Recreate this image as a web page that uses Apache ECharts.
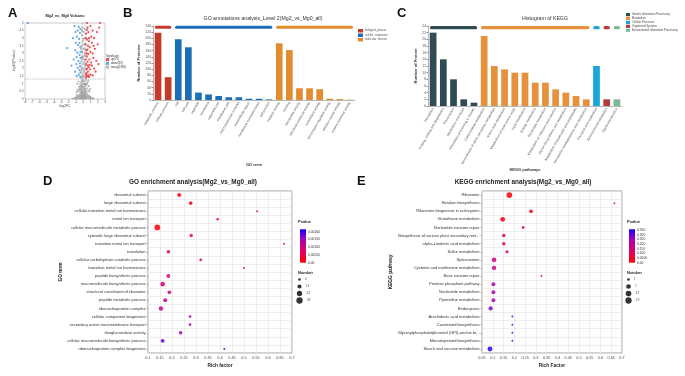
<!DOCTYPE html>
<html>
<head>
<meta charset="utf-8">
<script src="https://cdn.jsdelivr.net/npm/echarts@6/dist/echarts.min.js"></script>
<style>
html, body { margin: 0; background: #fff; }
#main { width: 685px; height: 376px; }
</style>
</head>
<body>
<div id="main"></div>
<script>
// ---- A: volcano ----
const volcanoUp = [[0.4,1.4],[0.55,1.5],[0.8,1.45],[0.45,1.7],[0.65,1.8],[1.0,1.6],[1.3,1.55],[0.5,2.0],[0.75,2.1],[0.95,1.95],[1.2,2.2],[1.5,2.0],[0.4,2.3],[0.6,2.45],[0.85,2.6],[1.1,2.4],[1.4,2.7],[1.8,2.5],[0.5,2.8],[0.7,2.95],[1.0,3.1],[1.3,3.0],[1.6,3.3],[0.45,3.2],[0.65,3.5],[0.9,3.4],[1.2,3.7],[2.0,3.6],[0.55,3.9],[0.8,4.0],[1.1,4.1],[1.5,4.0],[0.4,4.3],[0.7,4.4],[1.3,4.5],[1.9,4.4],[0.6,4.7],[1.0,4.8],[2.2,4.7],[1.7,1.8],[2.1,2.3],[0.35,3.6],[0.9,2.25],[1.45,3.5],[2.3,5.0],[0.55,5.0],
  [0.38,1.6],[0.42,1.95],[0.36,2.6],[0.48,3.0],[0.6,3.25],[0.38,4.0],[0.5,4.55],[0.7,1.55],[0.62,2.2],[0.8,3.8]];
const volcanoDown = [[-0.4,1.45],[-0.6,1.6],[-0.9,1.5],[-0.5,1.9],[-0.75,2.05],[-1.1,1.8],[-0.45,2.35],[-0.65,2.5],[-0.95,2.3],[-1.3,2.6],[-0.5,2.9],[-0.8,3.05],[-1.1,3.2],[-0.4,3.4],[-0.7,3.55],[-1.0,3.7],[-0.55,3.95],[-0.85,4.1],[-1.4,4.0],[-0.45,4.35],[-0.75,4.5],[-1.05,4.4],[-0.6,4.75],[-2.2,3.35],[-1.6,2.2],[-0.35,2.7],[-0.9,2.75],[-7.6,5.0],[-1.2,4.8],
  [-0.38,1.75],[-0.42,2.15],[-0.37,3.1],[-0.52,3.7],[-0.4,4.6]];
const volcanoNosig = [[-1.2,0.05],[-1.0,0.1],[-0.9,0.02],[-0.8,0.15],[-0.7,0.05],[-0.6,0.2],[-0.5,0.08],[-0.45,0.3],[-0.4,0.12],[-0.35,0.02],[-0.3,0.25],[-0.25,0.07],[-0.2,0.35],[-0.15,0.18],[-0.1,0.04],[-0.05,0.28],[0,0.1],[0.05,0.22],[0.1,0.03],[0.15,0.32],[0.2,0.12],[0.25,0.05],[0.3,0.27],[0.35,0.15],[0.4,0.02],[0.45,0.36],[0.5,0.1],[0.6,0.2],[0.7,0.06],[0.8,0.14],[0.9,0.03],[1.05,0.09],[1.25,0.04],[-1.45,0.03],[1.4,0.02],
  [-1.1,0.03],[-0.95,0.07],[-0.85,0.25],[-0.65,0.12],[-0.55,0.03],[-0.38,0.2],[-0.28,0.14],[-0.18,0.06],[-0.08,0.2],[0.02,0.05],[0.08,0.15],[0.18,0.26],[0.28,0.18],[0.38,0.08],[0.55,0.28],[0.65,0.13],[0.75,0.22],[0.95,0.16],[1.15,0.06],[-0.22,0.45],[-0.12,0.4],[0.0,0.42],[0.12,0.38],[0.22,0.48],[-0.32,0.4],
  [-0.9,0.45],[-0.75,0.6],[-0.6,0.5],[-0.55,0.8],[-0.5,0.65],[-0.4,0.95],[-0.35,0.55],[-0.3,1.1],[-0.25,0.75],[-0.2,0.9],[-0.15,1.2],[-0.1,0.6],[-0.05,1.0],[0,0.8],[0.05,1.15],[0.1,0.5],[0.15,0.7],[0.2,1.05],[0.25,0.85],[0.3,0.6],[0.35,1.25],[0.4,0.45],[0.45,0.95],[0.5,0.7],[0.6,1.1],[0.65,0.55],[0.75,0.85],[0.85,0.5],[0.95,0.65],[-0.8,1.0],[0.7,1.2],[-0.65,1.15],
  [-0.45,0.7],[-0.28,0.62],[-0.12,0.8],[0.08,0.68],[0.28,0.95],[-0.05,1.25],[0.15,0.98],[-0.35,0.85],[0.5,1.0],
  [-0.25,1.4],[-0.1,1.55],[0.05,1.7],[0.2,1.5],[-0.2,1.9],[0.1,2.0],[0.25,2.2],[-0.05,2.3],[-0.25,2.5],[0.15,2.6],[0,2.8],[0.22,3.0],[-0.15,3.1],[0.08,3.3],[-0.22,3.5],[0.18,3.6],[-0.05,3.8],[0.25,4.0],[-0.12,4.2],[0.05,4.4],[0.2,4.6],[-0.2,2.05],[0.12,1.85],[-0.08,2.65],[0.27,2.85],[-0.27,3.3],[0.02,3.95],[-0.18,4.5],
  [0.0,1.45],[0.15,2.4],[-0.15,2.75],[0.1,3.6],[-0.1,4.7],[0.25,3.3]];
const volcanoNames = ['up(75)', 'down(29)', 'nosig(2309)'];

// ---- B: GO level 2 ----
const goGroups = ['biological_process', 'cellular_component', 'molecular_function'];
const goTerms = ['metabolic process', 'cellular process',
  'cell', 'cell part', 'organelle', 'membrane', 'organelle part', 'membrane part', 'macromolecular complex', 'extracellular region', 'membrane-enclosed lumen', 'cell junction',
  'catalytic activity', 'binding', 'transporter activity', 'structural molecule activity', 'antioxidant activity', 'transcription regulator activity', 'electron carrier activity', 'nutrient reservoir activity'];
const goGroupOf = [0,0, 1,1,1,1,1,1,1,1,1,1, 2,2,2,2,2,2,2,2];
const goCounts = [218, 74, 197, 171, 24, 18, 13, 9, 9, 4, 4, 2, 184, 162, 38, 38, 35, 4, 3, 1];

// ---- C: KEGG histogram ----
const keggGroups = ['Genetic Information Processing', 'Metabolism', 'Cellular Processes', 'Organismal Systems', 'Environmental Information Processing'];
const keggTerms = ['Translation', 'Folding, sorting and degradation', 'Transcription', 'Replication and repair', 'Information processing in viruses',
  'Carbohydrate metabolism', 'Biosynthesis of other secondary metabolites', 'Amino acid metabolism', 'Metabolism of other amino acids', 'Lipid metabolism', 'Energy metabolism', 'Nucleotide metabolism', 'Metabolism of cofactors and vitamins', 'Glycan biosynthesis and metabolism', 'Metabolism of terpenoids and polyketides', 'Xenobiotics biodegradation and metabolism',
  'Transport and catabolism', 'Environmental adaptation', 'Signal transduction'];
const keggGroupOf = [0,0,0,0,0, 1,1,1,1,1,1,1,1,1,1,1, 2, 3, 4];
const keggCounts = [22, 14, 8, 2, 1, 21, 12, 11, 10, 10, 7, 7, 5, 4, 3, 2, 12, 2, 2];

// ---- D: GO enrichment ----
const goEnTerms = ['ribosomal subunit', 'large ribosomal subunit', 'cellular transition metal ion homeostasis', 'metal ion transport', 'cellular macromolecule metabolic process', 'cytosolic large ribosomal subunit', 'transition metal ion transport', 'translation', 'cellular carbohydrate catabolic process', 'transition metal ion homeostasis', 'peptide biosynthetic process', 'macromolecule biosynthetic process', 'structural constituent of ribosome', 'peptide metabolic process', 'ribonucleoprotein complex', 'cellular component biogenesis', 'secondary active transmembrane transport', 'thioglucosidase activity', 'cellular macromolecule biosynthetic process', 'ribonucleoprotein complex biogenesis'];
const goEnRich = [0.23, 0.278, 0.555, 0.39, 0.139, 0.28, 0.667, 0.185, 0.32, 0.5, 0.185, 0.161, 0.189, 0.172, 0.154, 0.275, 0.275, 0.236, 0.161, 0.418];
const goEnP = [0.0001, 0.0002, 0.0003, 0.0002, 0.00005, 0.0004, 0.0004, 0.0006, 0.0006, 0.0006, 0.0008, 0.0009, 0.0009, 0.0011, 0.0012, 0.0014, 0.0014, 0.0015, 0.0018, 0.002];
const goEnNum = [20, 14, 4, 5, 58, 12, 4, 14, 7, 4, 18, 30, 16, 20, 28, 6, 6, 14, 18, 4];
const goEnSizeKeys = [4, 13, 34, 58];

// ---- E: KEGG enrichment ----
const keggEnTerms = ['Ribosome', 'Betalain biosynthesis', 'Ribosome biogenesis in eukaryotes', 'Glutathione metabolism', 'Nucleotide excision repair', 'Biosynthesis of various plant secondary met...', 'alpha-Linolenic acid metabolism', 'Sulfur metabolism', 'Spliceosome', 'Cysteine and methionine metabolism', 'Base excision repair', 'Pentose phosphate pathway', 'Nucleotide metabolism', 'Pyrimidine metabolism', 'Endocytosis', 'Arachidonic acid metabolism', 'Carotenoid biosynthesis', 'Glycosylphosphatidylinositol (GPI)-anchor bi...', 'Monoterpenoid biosynthesis', 'Starch and sucrose metabolism'];
const keggEnRich = [0.177, 0.665, 0.278, 0.146, 0.241, 0.151, 0.151, 0.166, 0.106, 0.106, 0.326, 0.103, 0.103, 0.103, 0.09, 0.191, 0.191, 0.191, 0.191, 0.087];
const keggEnP = [0.005, 0.01, 0.02, 0.02, 0.12, 0.12, 0.12, 0.15, 0.17, 0.18, 0.2, 0.24, 0.24, 0.24, 0.28, 0.3, 0.3, 0.3, 0.3, 0.33];
const keggEnNum = [19, 1, 5, 12, 2, 4, 4, 3, 11, 8, 1, 6, 6, 6, 8, 1, 1, 1, 1, 12];
const keggEnSizeKeys = [1, 7, 13, 19];

const FONT = 'Liberation Sans';
const goColors = ['#c23b2b', '#1c6fb5', '#e38b2f'];
const keggColors = ['#2f4b53', '#e8913c', '#1aa5dc', '#b63b3d', '#7db89b'];
const pStops = ['#ff0000', '#e80050', '#c90089', '#9a00c3', '#0000ff'];

function goSize(n) { return 2 + 3.7 * Math.sqrt((n - 4) / 54); }
function keggSize(n) { return 2 + 3.7 * Math.sqrt((n - 1) / 18); }

function headerSeries(xi, groupOf, colors, yVal) {
  const ranges = [];
  groupOf.forEach((g, i) => {
    if (!ranges[g]) ranges[g] = [i, i, g]; else ranges[g][1] = i;
  });
  return {
    type: 'custom', xAxisIndex: xi, yAxisIndex: xi, silent: true,
    data: ranges,
    renderItem: function (params, api) {
      const a = api.coord([api.value(0), yVal]);
      const b = api.coord([api.value(1), yVal]);
      const bw = api.size([1, 0])[0];
      return {
        type: 'line',
        shape: { x1: a[0] - bw / 2 + 3.5, y1: a[1], x2: b[0] + bw / 2 - 3.5, y2: a[1] },
        style: { stroke: colors[api.value(2)], lineWidth: 3.2, lineCap: 'round' }
      };
    }
  };
}

const small = { fontFamily: FONT, color: '#555' };

const chart = echarts.init(document.getElementById('main'));

const option = {
  animation: false,
  backgroundColor: '#fff',
  textStyle: { fontFamily: FONT },
  grid: [
    { left: 25, top: 23, width: 80, height: 76, show: true, borderColor: '#aaa', borderWidth: 0.6 },
    { left: 153, top: 26, width: 202, height: 74 },
    { left: 428, top: 26, width: 194, height: 80 },
    { left: 148, top: 191, width: 144, height: 162, show: true, borderColor: '#888', borderWidth: 0.8 },
    { left: 482, top: 191, width: 140, height: 162, show: true, borderColor: '#888', borderWidth: 0.8 },
    { left: 300, top: 229.3, width: 6, height: 33.4 },
    { left: 629, top: 229.3, width: 6, height: 33.4 },
    { left: 296, top: 276, width: 7, height: 28 },
    { left: 625, top: 276, width: 7, height: 28 }
  ],
  xAxis: [
    { gridIndex: 0, type: 'value', min: -8, max: 3, interval: 1, name: 'log2FC', nameLocation: 'middle', nameGap: 5,
      nameTextStyle: { fontSize: 3.5, fontFamily: FONT },
      axisLine: { show: false }, axisTick: { length: 1, lineStyle: { color: '#999', width: 0.5 } },
      axisLabel: { fontSize: 2.8, margin: 1.5, color: '#444' }, splitLine: { show: false } },
    { gridIndex: 1, type: 'category', data: goTerms, name: 'GO term', nameLocation: 'middle', nameGap: 63,
      nameTextStyle: { fontSize: 4, fontWeight: 'bold', color: '#333' },
      axisLine: { lineStyle: { color: '#888', width: 0.6 } }, axisTick: { alignWithLabel: true, length: 1.5 },
      axisLabel: Object.assign({ fontSize: 3.3, rotate: 60, interval: 0, margin: 2 }, small) },
    { gridIndex: 2, type: 'category', data: keggTerms, name: 'KEGG pathways', nameLocation: 'middle', nameGap: 56,
      nameTextStyle: { fontSize: 4, fontWeight: 'bold', color: '#333' },
      axisLine: { lineStyle: { color: '#888', width: 0.6 } }, axisTick: { alignWithLabel: true, length: 1.5 },
      axisLabel: Object.assign({ fontSize: 3.3, rotate: 60, interval: 0, margin: 2 }, small) },
    { gridIndex: 3, type: 'value', min: 0.1, max: 0.7, interval: 0.05, name: 'Rich factor', nameLocation: 'middle', nameGap: 10,
      nameTextStyle: { fontSize: 4.8, fontWeight: 'bold', color: '#222' },
      axisLine: { show: false }, axisTick: { length: 1.5, lineStyle: { color: '#666', width: 0.5 } },
      axisLabel: { fontSize: 3.8, margin: 2.5, color: '#444' },
      splitLine: { show: true, lineStyle: { color: '#e3e3e3', width: 0.6 } } },
    { gridIndex: 4, type: 'value', min: 0.05, max: 0.7, interval: 0.05, name: 'Rich Factor', nameLocation: 'middle', nameGap: 10,
      nameTextStyle: { fontSize: 4.8, fontWeight: 'bold', color: '#222' },
      axisLine: { show: false }, axisTick: { length: 1.5, lineStyle: { color: '#666', width: 0.5 } },
      axisLabel: { fontSize: 3.8, margin: 2.5, color: '#444' },
      splitLine: { show: true, lineStyle: { color: '#e3e3e3', width: 0.6 } } },
    { gridIndex: 5, type: 'category', data: [''], show: false },
    { gridIndex: 6, type: 'category', data: [''], show: false },
    { gridIndex: 7, type: 'value', min: -1, max: 1, show: false },
    { gridIndex: 8, type: 'value', min: -1, max: 1, show: false }
  ],
  yAxis: [
    { gridIndex: 0, type: 'value', min: 0, max: 5, interval: 0.5, name: '-log10(Pvalue)', nameLocation: 'middle', nameGap: 7,
      nameTextStyle: { fontSize: 3.5, fontFamily: FONT },
      axisLine: { show: false }, axisTick: { length: 1, lineStyle: { color: '#999', width: 0.5 } },
      axisLabel: { fontSize: 2.8, margin: 1.5, color: '#444' }, splitLine: { show: false } },
    { gridIndex: 1, type: 'value', min: 0, max: 240, interval: 20, name: 'Number of Proteins', nameLocation: 'middle', nameGap: 12,
      nameTextStyle: { fontSize: 4, fontWeight: 'bold', color: '#333' },
      axisLine: { show: true, lineStyle: { color: '#888', width: 0.6 } }, axisTick: { show: true, length: 1.5 },
      axisLabel: Object.assign({ fontSize: 3.3, margin: 2 }, small), splitLine: { show: false } },
    { gridIndex: 2, type: 'value', min: 0, max: 24, interval: 2, name: 'Number of Protein', nameLocation: 'middle', nameGap: 10,
      nameTextStyle: { fontSize: 4, fontWeight: 'bold', color: '#333' },
      axisLine: { show: true, lineStyle: { color: '#888', width: 0.6 } }, axisTick: { show: true, length: 1.5 },
      axisLabel: Object.assign({ fontSize: 3.3, margin: 2 }, small), splitLine: { show: false } },
    { gridIndex: 3, type: 'category', data: goEnTerms, inverse: true, name: 'GO term', nameLocation: 'middle', nameGap: 84,
      nameTextStyle: { fontSize: 4.8, fontWeight: 'bold', color: '#222' },
      axisLine: { show: false }, axisTick: { show: true, alignWithLabel: true, length: 1.5, lineStyle: { color: '#666', width: 0.5 } },
      axisLabel: { fontSize: 4, margin: 2.5, color: '#333', interval: 0 },
      splitLine: { show: true, interval: 0, lineStyle: { color: '#e3e3e3', width: 0.6 } } },
    { gridIndex: 4, type: 'category', data: keggEnTerms, inverse: true, name: 'KEGG pathway', nameLocation: 'middle', nameGap: 89,
      nameTextStyle: { fontSize: 4.8, fontWeight: 'bold', color: '#222' },
      axisLine: { show: false }, axisTick: { show: true, alignWithLabel: true, length: 1.5, lineStyle: { color: '#666', width: 0.5 } },
      axisLabel: { fontSize: 4, margin: 2.5, color: '#333', interval: 0 },
      splitLine: { show: true, interval: 0, lineStyle: { color: '#e3e3e3', width: 0.6 } } },
    { gridIndex: 5, type: 'value', min: 0, max: 0.00215, interval: 0.0005, position: 'right',
      axisLine: { show: false }, axisTick: { show: true, inside: true, length: 1.5, lineStyle: { color: '#fff', width: 0.5 } },
      splitLine: { show: false },
      axisLabel: { fontSize: 3.3, margin: 2, color: '#333', formatter: v => v === 0 ? '0.00' : v.toFixed(5) } },
    { gridIndex: 6, type: 'value', min: 0, max: 0.357, interval: 0.05, position: 'right',
      axisLine: { show: false }, axisTick: { show: true, inside: true, length: 1.5, lineStyle: { color: '#fff', width: 0.5 } },
      splitLine: { show: false },
      axisLabel: { fontSize: 3.3, margin: 2, color: '#333', formatter: v => v === 0 ? '0.00' : (v < 0.1 ? v.toFixed(4) : v.toFixed(3)) } },
    { gridIndex: 7, type: 'category', data: goEnSizeKeys, inverse: true, show: false },
    { gridIndex: 8, type: 'category', data: keggEnSizeKeys, inverse: true, show: false }
  ],
  legend: [
    { data: volcanoNames, orient: 'vertical', left: 106, top: 58, itemWidth: 3, itemHeight: 3, itemGap: 0.8, icon: 'rect',
      textStyle: { fontSize: 2.8, color: '#333', padding: [0, 0, 0, -3] }, padding: 0 },
    { data: goGroups, orient: 'vertical', left: 358, top: 29, itemWidth: 5, itemHeight: 3.5, itemGap: 1, icon: 'rect',
      textStyle: { fontSize: 2.6, color: '#555', padding: [0, 0, 0, -3] }, padding: 0 },
    { data: keggGroups, orient: 'vertical', left: 626, top: 13, itemWidth: 4, itemHeight: 3.2, itemGap: 0.7, icon: 'rect',
      textStyle: { fontSize: 2.7, color: '#444', padding: [0, 0, 0, -3] }, padding: 0 }
  ],
  visualMap: [
    { type: 'continuous', show: false, seriesIndex: 11, dimension: 2, min: 0, max: 0.00215, inRange: { color: pStops } },
    { type: 'continuous', show: false, seriesIndex: 12, dimension: 2, min: 0, max: 0.357, inRange: { color: pStops } }
  ],
  graphic: [],
  series: []
};

// A
option.series.push(
  { type: 'scatter', name: volcanoNames[2], xAxisIndex: 0, yAxisIndex: 0, data: volcanoNosig, symbolSize: 2.2,
    itemStyle: { color: '#a6a6a6' },
    markLine: { silent: true, symbol: 'none', label: { show: false },
      lineStyle: { color: '#777', type: 'dashed', width: 0.4 },
      data: [{ yAxis: 1.3 }, { xAxis: -0.26 }, { xAxis: 0.26 }] } },
  { type: 'scatter', name: volcanoNames[0], xAxisIndex: 0, yAxisIndex: 0, data: volcanoUp, symbolSize: 2.2, itemStyle: { color: '#ee1c25' } },
  { type: 'scatter', name: volcanoNames[1], xAxisIndex: 0, yAxisIndex: 0, data: volcanoDown, symbolSize: 2.2, itemStyle: { color: '#3d8fe0' } }
);
// B bars (series 3..5)
goGroups.forEach((g, gi) => {
  option.series.push({ type: 'bar', name: g, xAxisIndex: 1, yAxisIndex: 1, barWidth: '66%', barGap: '-100%',
    data: goCounts.map((v, i) => goGroupOf[i] === gi ? v : null), itemStyle: { color: goColors[gi] } });
});
// C bars (series 6..10)
keggGroups.forEach((g, gi) => {
  option.series.push({ type: 'bar', name: g, xAxisIndex: 2, yAxisIndex: 2, barWidth: '66%', barGap: '-100%',
    data: keggCounts.map((v, i) => keggGroupOf[i] === gi ? v : null), itemStyle: { color: keggColors[gi] } });
});
// D scatter (11), E scatter (12)
option.series.push(
  { type: 'scatter', xAxisIndex: 3, yAxisIndex: 3,
    data: goEnRich.map((r, i) => [r, i, goEnP[i], goEnNum[i]]),
    symbolSize: d => goSize(d[3]), itemStyle: { opacity: 0.85 } },
  { type: 'scatter', xAxisIndex: 4, yAxisIndex: 4,
    data: keggEnRich.map((r, i) => [r, i, keggEnP[i], keggEnNum[i]]),
    symbolSize: d => keggSize(d[3]), itemStyle: { opacity: 0.85 } }
);
// header strips
option.series.push(headerSeries(1, goGroupOf, goColors, 236));
option.series.push(headerSeries(2, keggGroupOf, keggColors, 23.5));
// colour bars
function gradientBar(ai, max) {
  return { type: 'bar', xAxisIndex: ai, yAxisIndex: ai, barWidth: '100%', silent: true, data: [max],
    itemStyle: { color: new echarts.graphic.LinearGradient(0, 0, 0, 1,
      pStops.slice().reverse().map((c, i) => ({ offset: i / (pStops.length - 1), color: c }))) } };
}
option.series.push(gradientBar(5, 0.00215), gradientBar(6, 0.357));
// size keys
function sizeKey(ai, keys, sizeFn) {
  return { type: 'scatter', xAxisIndex: ai, yAxisIndex: ai, silent: true,
    data: keys.map((k, i) => [0, i, k]), symbolSize: d => sizeFn(d[2]) + 0.6,
    itemStyle: { color: '#000' },
    label: { show: true, position: 'right', distance: 4, fontSize: 3.5, color: '#333', formatter: p => String(p.data[2]) } };
}
option.series.push(sizeKey(7, goEnSizeKeys, goSize), sizeKey(8, keggEnSizeKeys, keggSize));

// texts
function txt(t, x, y, size, opts) {
  return Object.assign({ type: 'text', x: x, y: y, silent: true,
    style: Object.assign({ text: t, fontSize: size, fontFamily: FONT, fill: '#222', align: 'left', verticalAlign: 'middle' }, opts || {}) });
}
option.graphic = [
  txt('A', 8, 13, 13, { fontWeight: 'bold', fill: '#111' }),
  txt('B', 123, 13, 13, { fontWeight: 'bold', fill: '#111' }),
  txt('C', 397, 13, 13, { fontWeight: 'bold', fill: '#111' }),
  txt('D', 43, 181, 13, { fontWeight: 'bold', fill: '#111' }),
  txt('E', 357, 181, 13, { fontWeight: 'bold', fill: '#111' }),
  txt('Mg2_vs_Mg0 Volcano', 65, 16, 3.8, { align: 'center', fontWeight: 'bold' }),
  txt('Significant', 106, 56, 2.8, { fill: '#333' }),
  txt('GO annotations analysis_Level 2(Mg2_vs_Mg0_all)', 263, 19, 5.2, { align: 'center', fill: '#333' }),
  txt('Histogram of KEGG', 545, 19, 5.2, { align: 'center', fill: '#333' }),
  txt('GO enrichment analysis(Mg2_vs_Mg0_all)', 193, 182, 6.4, { align: 'center', fontWeight: 'bold' }),
  txt('KEGG enrichment analysis(Mg2_vs_Mg0_all)', 523, 182, 6.4, { align: 'center', fontWeight: 'bold' }),
  txt('Pvalue', 298, 222, 4, { fontWeight: 'bold' }),
  txt('Number', 298, 273, 4, { fontWeight: 'bold' }),
  txt('Pvalue', 627, 222, 4, { fontWeight: 'bold' }),
  txt('Number', 627, 273, 4, { fontWeight: 'bold' })
];

chart.setOption(option);
</script>
</body>
</html>
